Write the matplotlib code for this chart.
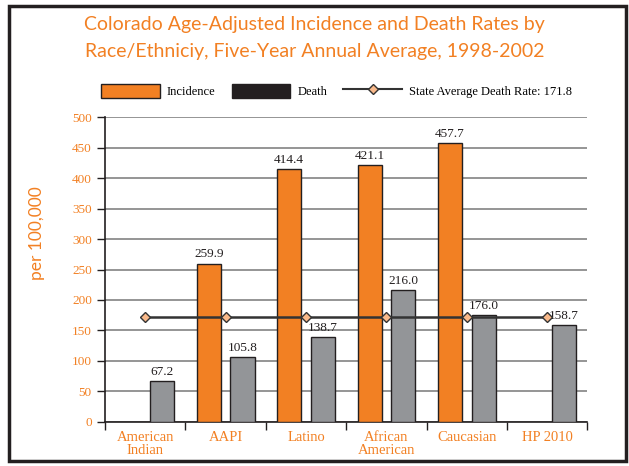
import numpy as np
import matplotlib.pyplot as plt
from matplotlib.patches import Rectangle, Patch
from matplotlib.lines import Line2D

# Данные
groups = ['American\nIndian', 'AAPI', 'Latino', 'African\nAmerican', 'Caucasian', 'HP 2010']
incidence = [np.nan, 259.9, 414.4, 421.1, 457.7, np.nan]
death = [67.2, 105.8, 138.7, 216.0, 176.0, 158.7]
state_avg = 171.8

orange = '#F28023'
gray = '#939598'
dark = '#231F20'
serif = 'Liberation Serif'

fig = plt.figure(figsize=(6.29, 4.66), dpi=100)
ax = fig.add_axes([0.167, 0.095, 0.767, 0.6532])

x = np.arange(len(groups))
w = 0.3
ax.bar(x - 0.21, incidence, w, color=orange, edgecolor=dark, linewidth=1, zorder=3)
ax.bar(x + 0.21, death, w, color=gray, edgecolor=dark, linewidth=1, zorder=3)

for xi, v in zip(x, incidence):
    if not np.isnan(v):
        ax.text(xi - 0.21, v + 5, f'{v:.1f}', ha='center', va='bottom',
                fontsize=9.5, family=serif, color=dark, zorder=5)
for xi, v in zip(x, death):
    ax.text(xi + 0.21, v + 5, f'{v:.1f}', ha='center', va='bottom',
            fontsize=9.5, family=serif, color=dark, zorder=5)

# линия среднего по штату
ax.plot(x, [state_avg] * len(x), color='#333333', linewidth=1.8, marker='D',
        markersize=5.5, markerfacecolor='#F9B98A', markeredgecolor='#333333',
        markeredgewidth=1, zorder=6)

ax.set_xlim(-0.5, 5.5)
ax.set_ylim(0, 500)
ax.set_yticks(np.arange(0, 501, 50))
ax.yaxis.grid(True, color='#8C8C8C', linewidth=1.3, zorder=0)
ax.set_axisbelow(True)
ax.tick_params(axis='y', length=6, width=1, color=dark, labelcolor=orange, labelsize=9.5)
ax.set_yticklabels([str(v) for v in range(0, 501, 50)], family=serif)

ax.set_xticks(np.arange(-0.5, 6, 1))
ax.set_xticklabels([])
ax.set_xticks(x, minor=True)
ax.set_xticklabels(groups, minor=True, family=serif, color=orange, fontsize=10.5, linespacing=1.0)
ax.tick_params(axis='x', which='major', length=6, width=1, color=dark, direction='out')
ax.tick_params(axis='x', which='minor', length=0, pad=7)

for s in ['top', 'right']:
    ax.spines[s].set_visible(False)
for s in ['left', 'bottom']:
    ax.spines[s].set_color(dark)
    ax.spines[s].set_linewidth(1.2)

ax.set_ylabel('per 100,000', color=orange, fontsize=12.5, family='Lato')
ax.yaxis.set_label_coords(-0.125, 0.62)

fig.suptitle('Colorado Age-Adjusted Incidence and Death Rates by\n'
             'Race/Ethniciy, Five-Year Annual Average, 1998-2002',
             color=orange, fontsize=14, family='Lato', y=0.965, linespacing=1.7)

handles = [Patch(facecolor=orange, edgecolor=dark),
           Patch(facecolor=dark, edgecolor=dark),
           Line2D([], [], color='#333333', linewidth=1.5, marker='D', markersize=5,
                  markerfacecolor='#F9B98A', markeredgecolor='#333333')]
labels = ['Incidence', 'Death', 'State Average Death Rate: 171.8']
fig.legend(handles, labels, ncol=3, loc='center', bbox_to_anchor=(0.535, 0.805),
           frameon=False, prop={'family': serif, 'size': 9},
           handlelength=4.7, handleheight=1.4, columnspacing=1.3, handletextpad=0.55)

# рамка вокруг рисунка
fig.patches.append(Rectangle((9 / 629, 5 / 466), 617 / 629, 455 / 466, transform=fig.transFigure,
                             fill=False, edgecolor=dark, linewidth=2.5))

fig.savefig('out.png', dpi=100)
